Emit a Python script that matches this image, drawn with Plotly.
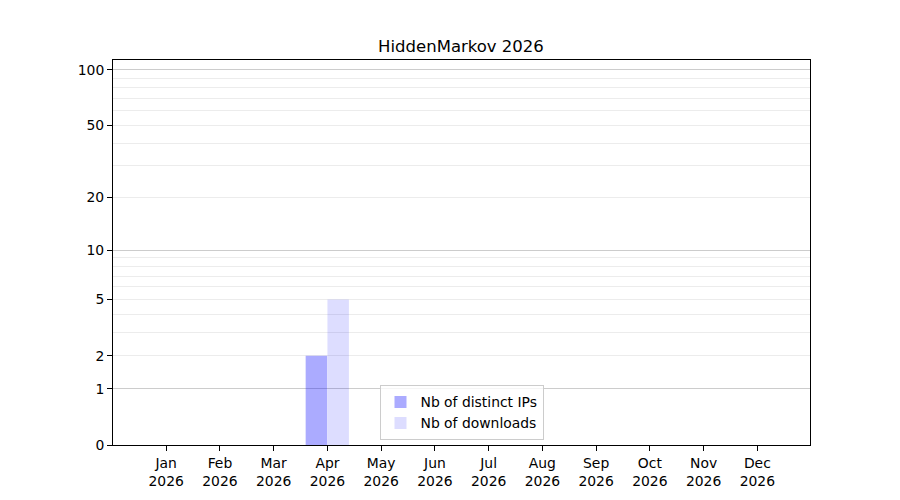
import plotly.graph_objects as go

months = ["Jan", "Feb", "Mar", "Apr", "May", "Jun", "Jul", "Aug", "Sep", "Oct", "Nov", "Dec"]
year = "2026"
distinct_ips = [0, 0, 0, 2, 0, 0, 0, 0, 0, 0, 0, 0]
downloads = [0, 0, 0, 5, 0, 0, 0, 0, 0, 0, 0, 0]

ytick_values = [0, 1, 2, 5, 10, 20, 50, 100]
major_grid_values = [1, 10, 100]
minor_grid_values = [2, 3, 4, 5, 6, 7, 8, 9, 20, 30, 40, 50, 60, 70, 80, 90]

x_idx = list(range(len(months)))
x_text = [f"{m}<br>{year}" for m in months]

FONT = "DejaVu Sans"

fig = go.Figure()
fig.add_trace(go.Bar(
    x=x_idx, y=distinct_ips, base=1, width=0.4, offset=-0.405,
    marker=dict(color="rgba(0,0,255,0.33)", line=dict(width=0)),
    name="Nb of distinct IPs",
))
fig.add_trace(go.Bar(
    x=x_idx, y=downloads, base=1, width=0.4, offset=0.0,
    marker=dict(color="rgba(0,0,255,0.135)", line=dict(width=0)),
    name="Nb of downloads",
))

# log(1+y) scale: axis values are 1+v
yrange = [0, 2.0577]
fig.update_layout(
    width=900, height=500,
    margin=dict(l=105, r=98, t=52, b=63),
    paper_bgcolor="white", plot_bgcolor="white",
    font=dict(family=FONT, size=13.9, color="black"),
    title=dict(text="HiddenMarkov 2026", x=0.5033, xanchor="center", y=0.924, yanchor="middle",
               font=dict(family=FONT, size=16.5, color="black")),
    barmode="overlay",
    showlegend=True,
    legend=dict(x=0.5, xanchor="center", y=0.012, yanchor="bottom",
                bordercolor="#cccccc", borderwidth=1, bgcolor="rgba(255,255,255,0.8)",
                font=dict(family=FONT, size=13.9), tracegroupgap=0, itemwidth=30),
    xaxis=dict(
        range=[-0.99, 11.98], tickmode="array", tickvals=x_idx, ticktext=x_text,
        showgrid=False, zeroline=False,
        showline=True, linecolor="black", linewidth=1, mirror=True,
        ticks="outside", ticklen=5, tickcolor="black", tickwidth=1,
    ),
    yaxis=dict(
        type="log", range=yrange,
        tickmode="array", tickvals=[v + 1 for v in ytick_values],
        ticktext=[str(v) for v in ytick_values],
        showgrid=False, zeroline=False,
        showline=True, linecolor="black", linewidth=1, mirror=True,
        ticks="outside", ticklen=5, tickcolor="black", tickwidth=1,
        minor=dict(tickmode="array", tickvals=[v + 1 for v in minor_grid_values],
                   showgrid=True, gridcolor="#ececec", gridwidth=1, ticks=""),
    ),
    yaxis2=dict(
        type="log", range=yrange, overlaying="y", side="left",
        tickmode="array", tickvals=[v + 1 for v in major_grid_values],
        showticklabels=False, ticks="",
        showgrid=True, gridcolor="#cccccc", gridwidth=1, zeroline=False, showline=False,
    ),
)
# invisible trace to activate yaxis2 grid
fig.add_trace(go.Scatter(x=[0], y=[1], yaxis="y2", mode="markers",
                         marker=dict(opacity=0), showlegend=False, hoverinfo="skip"))

fig.write_html("out.html")
